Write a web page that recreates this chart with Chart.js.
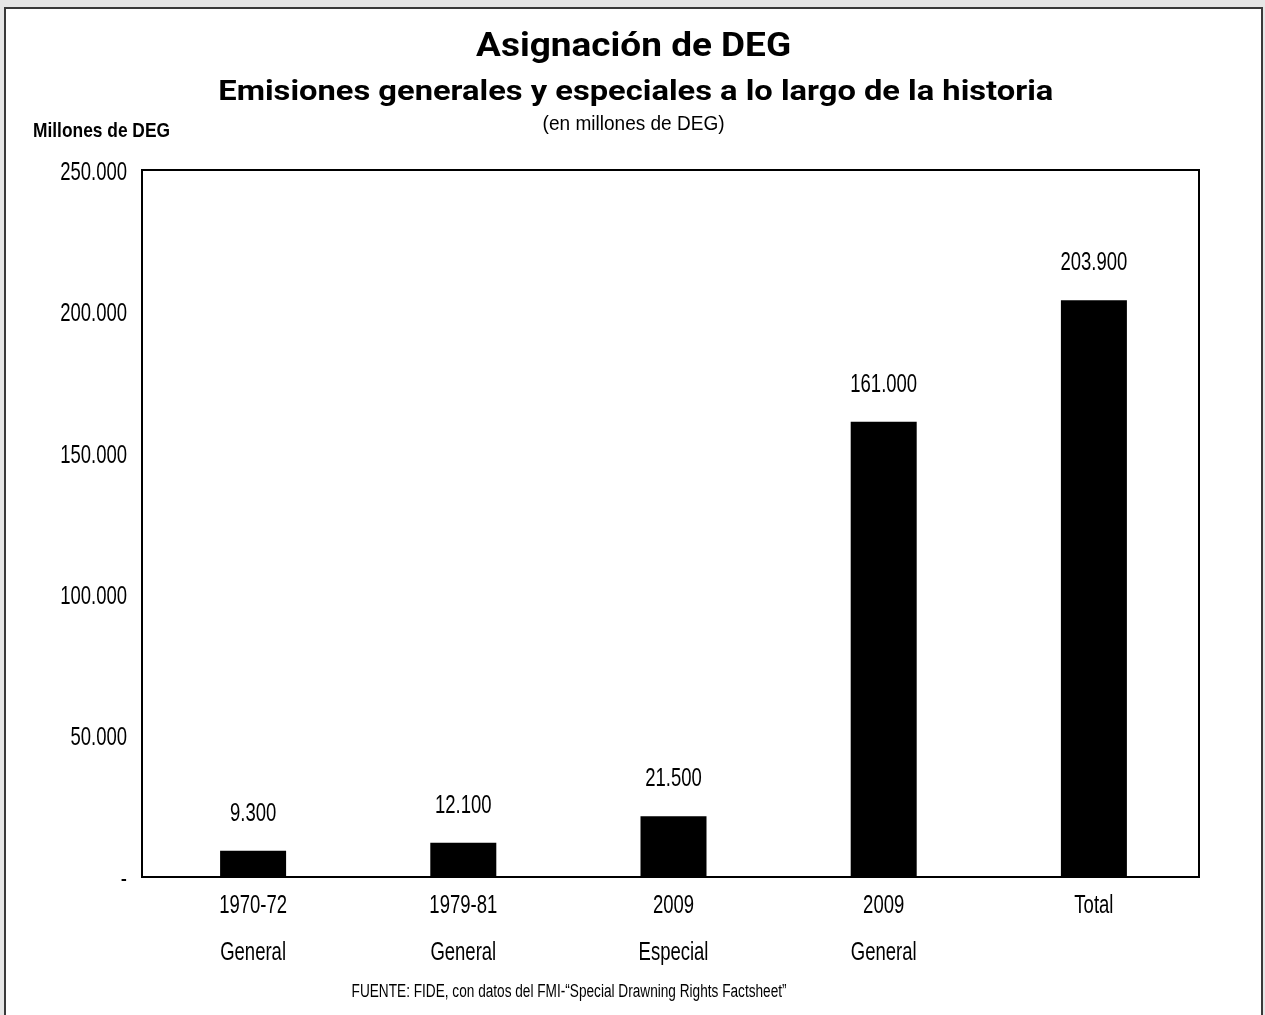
<!DOCTYPE html>
<html>
<head>
<meta charset="utf-8">
<script src="https://cdn.jsdelivr.net/npm/chart.js@4.4.1/dist/chart.umd.min.js"></script>
<style>
  html, body { margin:0; padding:0; }
  body { width:1265px; height:1015px; background:#e6e6e6; position:relative; overflow:hidden; }
  #panel { position:absolute; left:4px; top:7px; width:1259px; height:1020px; background:#fff; border:2px solid #3a3a3a; box-sizing:border-box; }
  canvas { position:absolute; left:0; top:0; }
  .t { position:absolute; white-space:nowrap; color:#000; text-align:center; }
  .t span { display:inline-block; transform-origin:50% 50%; }
  #title { font-family:"Roboto","DejaVu Sans",sans-serif; font-weight:700; font-size:33px; left:0; width:1268px; top:25px; }
  #subtitle { font-family:"Roboto","DejaVu Sans",sans-serif; font-weight:700; font-size:28px; left:0; width:1271px; top:74px; }
  #unit { font-family:"Liberation Sans","Arial",sans-serif; font-size:20px; left:0; width:1268px; top:112px; }
  #ylab { font-family:"Liberation Sans","Arial",sans-serif; font-weight:700; font-size:21px; left:33px; top:118px; text-align:left; }
  #ylab span { transform-origin:0 50%; }
  #foot { font-family:"Liberation Sans","Arial",sans-serif; font-size:18px; left:0; width:1139px; top:981px; }
</style>
</head>
<body>
<div id="panel"></div>
<canvas id="c" width="1265" height="1015"></canvas>
<div class="t" id="title"><span data-w="315">Asignación de DEG</span></div>
<div class="t" id="subtitle"><span data-w="835">Emisiones generales y especiales a lo largo de la historia</span></div>
<div class="t" id="unit"><span data-w="182">(en millones de DEG)</span></div>
<div class="t" id="ylab"><span data-w="137">Millones de DEG</span></div>
<div class="t" id="foot"><span data-w="435">FUENTE: FIDE, con datos del FMI-“Special Drawning Rights Factsheet”</span></div>
<script>
const categories = [["1970-72","General"],["1979-81","General"],["2009","Especial"],["2009","General"],["Total"]];
const values = [9300, 12100, 21500, 161000, 203900];
const valueLabels = ["9.300","12.100","21.500","161.000","203.900"];
const yTicks = [0, 50000, 100000, 150000, 200000, 250000];
const yTickLabels = ["-", "50.000", "100.000", "150.000", "200.000", "250.000"];

// fit HTML text widths (condensed look)
document.querySelectorAll('.t span').forEach(s => {
  const w = s.getBoundingClientRect().width;
  s.style.transform = 'scaleX(' + (parseFloat(s.dataset.w) / w) + ')';
});

const FONT = "'Liberation Sans',Arial,sans-serif";
const SX = 0.74; // horizontal condensation of canvas text

const condensed = {
  id:'condensed',
  beforeInit(chart){
    const ctx = chart.ctx;
    const orig = ctx.fillText.bind(ctx);
    ctx.fillText = function(text, x, y){
      this.save();
      this.translate(x, y);
      this.scale(SX, 1);
      orig(text, 0, 0);
      this.restore();
    };
  }
};
const frame = {
  id:'frame',
  afterDatasetsDraw(chart){
    const {ctx, chartArea:a} = chart;
    const left = chart.scales.y.right - 6;
    ctx.save();
    ctx.strokeStyle = '#000';
    ctx.lineWidth = 2;
    ctx.strokeRect(left, a.top, a.right - left, a.bottom - a.top);
    ctx.restore();
  }
};
const dataLabels = {
  id:'dataLabels',
  afterDatasetsDraw(chart){
    const {ctx} = chart;
    const meta = chart.getDatasetMeta(0);
    ctx.save();
    ctx.font = "25px " + FONT;
    ctx.fillStyle = '#000';
    ctx.textAlign = 'center';
    ctx.textBaseline = 'middle';
    meta.data.forEach((bar, i) => {
      ctx.fillText(valueLabels[i], bar.x, bar.y - 37);
    });
    ctx.restore();
  }
};

new Chart(document.getElementById('c'), {
  type:'bar',
  data:{
    labels: categories,
    datasets:[{ data: values, backgroundColor:'#000', borderWidth:0, barPercentage:0.314, categoryPercentage:1 }]
  },
  options:{
    responsive:false,
    animation:false,
    devicePixelRatio:1,
    layout:{ padding:{ left:0, top:170, right:66, bottom:0 } },
    plugins:{ legend:{display:false}, tooltip:{enabled:false}, title:{display:false} },
    scales:{
      x:{
        grid:{ display:false, drawTicks:false },
        border:{ display:false },
        ticks:{ color:'#000', padding:5.5, font:{ family:FONT, size:25, lineHeight:47/25 }, maxRotation:0, autoSkip:false },
        afterFit(s){ s.height = 1015 - 877; }
      },
      y:{
        min:0, max:250000,
        grid:{ display:false, drawTicks:false },
        border:{ display:false },
        afterBuildTicks(s){ s.ticks = yTicks.map(v => ({value:v})); },
        ticks:{ color:'#000', padding:21, labelOffset:3, font:{ family:FONT, size:25 },
          callback(v){ const i = yTicks.indexOf(v); return i >= 0 ? yTickLabels[i] : ''; } },
        afterFit(s){ s.width = 148; }
      }
    }
  },
  plugins:[condensed, frame, dataLabels]
});
</script>
</body>
</html>
